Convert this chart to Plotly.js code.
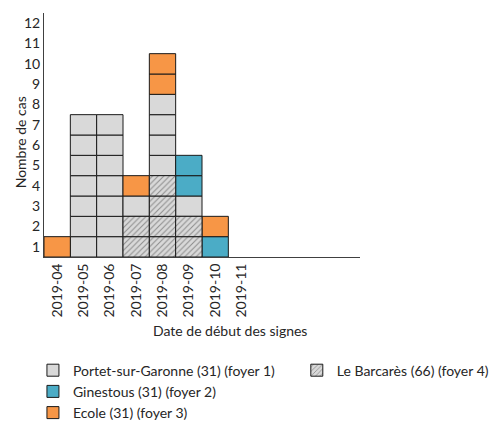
<!DOCTYPE html>
<html>
<head>
<meta charset="utf-8">
<script src="https://cdn.plot.ly/plotly-3.0.1.min.js"></script>
<style>html,body{margin:0;padding:0;background:#fff;}#chart{width:493px;height:421px;}</style>
</head>
<body>
<div id="chart"></div>
<script>
// Months (x categories)
var months = ['2019-04','2019-05','2019-06','2019-07','2019-08','2019-09','2019-10','2019-11'];
// Case counts per month, per cluster
var barcares = [0, 0, 0, 2, 4, 2, 0, 0]; // Le Barcarès (66) (foyer 4)
var portet   = [0, 7, 7, 1, 4, 1, 0, 0]; // Portet-sur-Garonne (31) (foyer 1)
var ginestous= [0, 0, 0, 0, 0, 2, 1, 0]; // Ginestous (31) (foyer 2)
var ecole    = [1, 0, 0, 1, 2, 0, 1, 0]; // Ecole (31) (foyer 3)
// Series names
var nameBarcares = 'Le Barcarès (66) (foyer 4)';
var namePortet = 'Portet-sur-Garonne (31) (foyer 1)';
var nameGinestous = 'Ginestous (31) (foyer 2)';
var nameEcole = 'Ecole (31) (foyer 3)';
// Y tick labels (centred on each unit box)
var yTickVals = [0.5,1.5,2.5,3.5,4.5,5.5,6.5,7.5,8.5,9.5,10.5,11.5];
var yTickText = ['1','2','3','4','5','6','7','8','9','10','11','12'];

var FONT = 'Lato, "Open Sans", sans-serif';
var TXT = '#262626';
var FS = 14;

// stacking order, bottom to top
var stackOrder = [barcares, portet, ginestous, ecole];
var cum = months.map(function(){return 0;});
var unitData = [];
stackOrder.forEach(function(series){
  var xs = [], bs = [], ys = [];
  series.forEach(function(n, i){
    for (var k = 0; k < n; k++) { xs.push(months[i]); bs.push(cum[i] + k); ys.push(1); }
    cum[i] += n;
  });
  unitData.push({x: xs, base: bs, y: ys});
});

var line = {color: '#1a1a1a', width: 1};
function tr(d, name, marker, legend) {
  return {type: 'bar', x: d.x, y: d.y, base: d.base, name: name, marker: marker,
          width: 1, legend: legend, hoverinfo: 'x+name'};
}
var traces = [
  tr(unitData[1], namePortet, {color: '#d9d9d9', line: line}, 'legend'),
  tr(unitData[2], nameGinestous, {color: '#4bacc6', line: line}, 'legend'),
  tr(unitData[3], nameEcole, {color: '#f79646', line: line}, 'legend'),
  tr(unitData[0], nameBarcares, {color: '#d9d9d9', line: line,
     pattern: {shape: '/', fgcolor: '#8c8c8c', bgcolor: '#d9d9d9', size: 4, solidity: 0.25}}, 'legend2')
];

var layout = {
  width: 493, height: 421,
  margin: {l: 44, r: 133, t: 13, b: 164, autoexpand: false},
  paper_bgcolor: '#fff', plot_bgcolor: '#fff',
  barmode: 'overlay',
  font: {family: FONT, size: FS, color: TXT},
  xaxis: {
    type: 'category', categoryarray: months, categoryorder: 'array',
    range: [-0.5, 11.5], showgrid: false, zeroline: false,
    showline: true, linecolor: '#404040', linewidth: 1,
    ticks: '', tickangle: -90, tickfont: {family: FONT, size: FS, color: TXT},
    fixedrange: true, automargin: false
  },
  yaxis: {
    range: [0, 12], showgrid: false, zeroline: false,
    showline: true, linecolor: '#404040', linewidth: 1,
    ticks: '', tickmode: 'array', tickvals: yTickVals, ticktext: yTickText,
    tickfont: {family: FONT, size: FS, color: TXT}, fixedrange: true, automargin: false
  },
  showlegend: true,
  legend: {x: -0.035, xanchor: 'left', y: -0.40, yanchor: 'top', orientation: 'v',
           font: {family: FONT, size: FS, color: TXT}, bgcolor: 'rgba(0,0,0,0)', traceorder: 'normal'},
  legend2: {x: 0.80, xanchor: 'left', y: -0.40, yanchor: 'top', orientation: 'v',
           font: {family: FONT, size: FS, color: TXT}, bgcolor: 'rgba(0,0,0,0)'},
  annotations: [
    {text: 'Date de début des signes', xref: 'paper', yref: 'paper', x: 0.34, xanchor: 'left',
     y: -0.30, yanchor: 'middle', showarrow: false, font: {family: FONT, size: FS, color: TXT}},
    {text: 'Nombre de cas', xref: 'paper', yref: 'paper', x: -0.076, xanchor: 'center',
     y: 0.47, yanchor: 'middle', textangle: -90, showarrow: false, font: {family: FONT, size: FS, color: TXT}}
  ]
};

Plotly.newPlot('chart', traces, layout, {displayModeBar: false, staticPlot: true});
</script>
</body>
</html>
